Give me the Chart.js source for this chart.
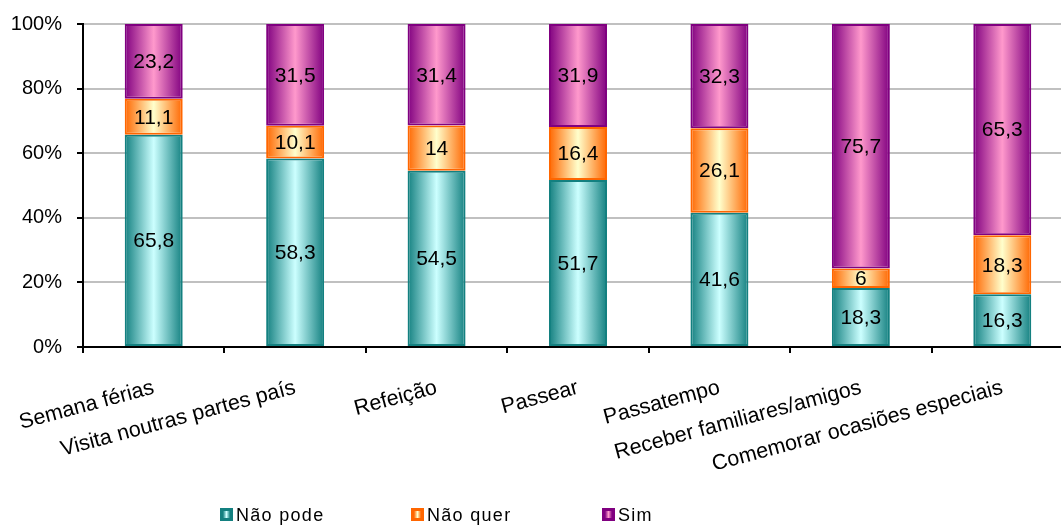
<!DOCTYPE html>
<html lang="pt">
<head>
<meta charset="utf-8">
<title>Motivos</title>
<script src="https://cdn.jsdelivr.net/npm/chart.js@4.4.0/dist/chart.umd.min.js"></script>
<style>
    html, body { margin: 0; padding: 0; background: #fff; overflow: hidden; }
    .wrap { width: 1061px; height: 525px; overflow: hidden; }
</style>
</head>
<body>
<div class="wrap"><canvas id="chart" width="1080" height="525"></canvas></div>
<script>
const categorias = ['Semana férias', 'Visita noutras partes país', 'Refeição', 'Passear', 'Passatempo', 'Receber familiares/amigos', 'Comemorar ocasiões especiais'];
const naoPode = [65.8, 58.3, 54.5, 51.7, 41.6, 18.3, 16.3];
const naoQuer = [11.1, 10.1, 14, 16.4, 26.1, 6, 18.3];
const sim = [23.2, 31.5, 31.4, 31.9, 32.3, 75.7, 65.3];
const yTicks = [0, 20, 40, 60, 80, 100];

const FONTE = '"Liberation Sans", Arial, sans-serif';
const BAR_PCT = 0.41;

// cada coluna soma 100%
const totais = categorias.map((c, i) => naoPode[i] + naoQuer[i] + sim[i]);
const percentagem = arr => arr.map((v, i) => v / totais[i] * 100);

// degradê horizontal: escuro nas bordas, claro no meio
function gradiente(borda, centro) {
    return function(ctx) {
        const chart = ctx.chart;
        const xScale = chart.scales.x;
        if (!xScale || ctx.dataIndex === undefined) return centro;
        const cx = xScale.getPixelForValue(ctx.dataIndex);
        const w = xScale.width / categorias.length * BAR_PCT;
        if (!isFinite(cx) || !isFinite(w) || w <= 0) return centro;
        const g = chart.ctx.createLinearGradient(cx - w / 2, 0, cx + w / 2, 0);
        g.addColorStop(0, borda);
        g.addColorStop(0.5, centro);
        g.addColorStop(1, borda);
        return g;
    };
}

const series = [
    { label: 'Não pode', valores: naoPode, borda: '#138080', claro: '#ccffff' },
    { label: 'Não quer', valores: naoQuer, borda: '#ff6600', claro: '#ffffcc' },
    { label: 'Sim', valores: sim, borda: '#800080', claro: '#ff99cc' }
];

// valores escritos dentro de cada segmento
const rotulosValores = {
    id: 'rotulosValores',
    afterDatasetsDraw(chart) {
        const ctx = chart.ctx;
        ctx.save();
        ctx.font = '21px ' + FONTE;
        ctx.fillStyle = '#000';
        ctx.textAlign = 'center';
        ctx.textBaseline = 'middle';
        chart.data.datasets.forEach((ds, i) => {
            chart.getDatasetMeta(i).data.forEach((bar, j) => {
                const txt = String(ds.valores[j]).replace('.', ',');
                ctx.fillText(txt, bar.x, (bar.y + bar.base) / 2 + 1);
            });
        });
        ctx.restore();
    }
};

// legenda em baixo
const legendaBaixo = {
    id: 'legendaBaixo',
    afterDraw(chart) {
        const ctx = chart.ctx;
        const y = 515;
        let x = 220;
        ctx.save();
        ctx.font = '18px ' + FONTE;
        ctx.letterSpacing = '1.3px';
        ctx.textBaseline = 'middle';
        ctx.textAlign = 'left';
        chart.data.datasets.forEach(ds => {
            ctx.fillStyle = ds.borderColor;
            ctx.fillRect(x, y - 7, 13, 13);
            const g = ctx.createLinearGradient(x + 3, 0, x + 10, 0);
            g.addColorStop(0, ds.borderColor);
            g.addColorStop(0.5, ds.corClara);
            g.addColorStop(1, ds.borderColor);
            ctx.fillStyle = g;
            ctx.fillRect(x + 3, y - 4, 7, 7);
            ctx.fillStyle = '#000';
            ctx.fillText(ds.label, x + 16, y + 1);
            x += 191;
        });
        ctx.restore();
    }
};

const ctx = document.getElementById('chart').getContext('2d');
const chart = new Chart(ctx, {
    type: 'bar',
    data: {
        labels: categorias,
        datasets: series.map(s => ({
            label: s.label,
            data: percentagem(s.valores),
            valores: s.valores,
            corClara: s.claro,
            backgroundColor: gradiente(s.borda, s.claro),
            borderColor: s.borda,
            borderWidth: 2,
            borderSkipped: false,
            barPercentage: BAR_PCT,
            categoryPercentage: 1
        }))
    },
    options: {
        responsive: false,
        animation: false,
        events: [],
        layout: { padding: { top: 24, right: 7, left: 0, bottom: 0 } },
        plugins: {
            legend: { display: false },
            tooltip: { enabled: false }
        },
        scales: {
            x: {
                stacked: true,
                grid: { drawOnChartArea: false, offset: true, color: '#000', lineWidth: 2, tickLength: 6 },
                border: { color: '#000', width: 2, z: 1 },
                ticks: {
                    color: '#000',
                    font: { family: FONTE, size: 21.5 },
                    minRotation: 15,
                    maxRotation: 15,
                    autoSkip: false,
                    padding: 22
                },
                afterFit(scale) {
                    scale.height = 178;
                    scale.paddingLeft = 0;
                    scale.paddingRight = 0;
                }
            },
            y: {
                stacked: true,
                min: 0,
                max: 100,
                afterBuildTicks(scale) { scale.ticks = yTicks.map(v => ({ value: v })); },
                ticks: {
                    color: '#000',
                    font: { family: FONTE, size: 20 },
                    padding: 15,
                    callback: v => v + '%'
                },
                grid: {
                    color: c => c.tick && c.tick.value === 0 ? 'rgba(0,0,0,0)' : '#c0c0c0',
                    lineWidth: 2,
                    tickColor: '#000',
                    tickLength: 6
                },
                border: { color: '#000', width: 2 },
                afterFit(scale) {
                    scale.width = 83;
                    scale.paddingTop = 0;
                    scale.paddingBottom = 0;
                }
            }
        }
    },
    plugins: [rotulosValores, legendaBaixo]
});
</script>
</body>
</html>
